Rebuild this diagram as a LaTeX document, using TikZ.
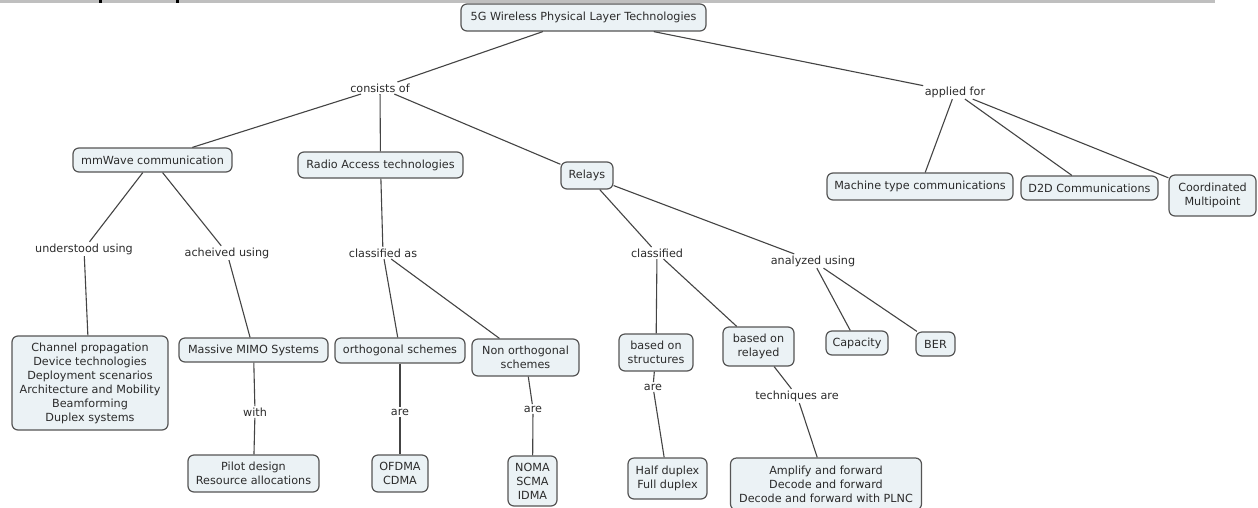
\documentclass[tikz,border=0pt]{standalone}
\usepackage{fontspec}
\setmainfont{DejaVu Sans}
\begin{document}
\definecolor{boxfill}{HTML}{EBF2F5}
\definecolor{boxline}{HTML}{555555}
\definecolor{inkgray}{HTML}{2B2B2B}
\definecolor{linkgray}{HTML}{444444}
\definecolor{bargray}{HTML}{BFBFBF}
\begin{tikzpicture}[x=1pt,y=-1pt,
  font=\fontsize{11.2}{14}\selectfont,
  cbox/.style={draw=boxline, fill=boxfill, rounded corners=6pt, line width=1.2pt,
               align=center, inner sep=0pt, text=inkgray},
  lbl/.style={inner sep=1.5pt, text=inkgray},
  link/.style={draw=linkgray, line width=1.1pt}]
\useasboundingbox (0,0) rectangle (1258,507);
\clip (0,0) rectangle (1258,507);
\fill[white] (0,0) rectangle (1258,507);
% header strip
\fill[bargray] (0,0) rectangle (1215,3);
\fill[black] (99,0) rectangle (101.5,3);
\fill[black] (176,0) rectangle (178.5,3);

% concepts
\node[cbox, minimum width=245pt, minimum height=27pt] (top) at (583.5,17.5) {5G Wireless Physical Layer Technologies};
\node[cbox, minimum width=159pt, minimum height=24pt] (mmw) at (152.5,160) {mmWave communication};
\node[cbox, minimum width=165pt, minimum height=26pt] (rat) at (380.5,165) {Radio Access technologies};
\node[cbox, minimum width=52pt, minimum height=27pt] (rel) at (587,175.5) {Relays};
\node[cbox, minimum width=186pt, minimum height=27pt] (mtc) at (920,186.5) {Machine type communications};
\node[cbox, minimum width=137pt, minimum height=24pt] (d2d) at (1089.5,188) {D2D Communications};
\node[cbox, minimum width=87pt, minimum height=41pt] (comp) at (1212.5,195.5) {Coordinated\\Multipoint};
\node[cbox, minimum width=156pt, minimum height=94pt] (chan) at (90,383) {Channel propagation\\Device technologies\\Deployment scenarios\\Architecture and Mobility\\Beamforming\\Duplex systems};
\node[cbox, minimum width=149pt, minimum height=24pt] (mimo) at (253.5,350) {Massive MIMO Systems};
\node[cbox, minimum width=131pt, minimum height=37pt] (pilot) at (253.5,473.5) {Pilot design\\Resource allocations};
\node[cbox, minimum width=130pt, minimum height=25pt] (orth) at (400,350.5) {orthogonal schemes};
\node[cbox, minimum width=56pt, minimum height=37pt] (ofdma) at (400,473.5) {OFDMA\\CDMA};
\node[cbox, minimum width=107pt, minimum height=37pt] (nonorth) at (525.5,357.5) {Non orthogonal\\schemes};
\node[cbox, minimum width=49pt, minimum height=50pt] (noma) at (532.5,481) {NOMA\\SCMA\\IDMA};
\node[cbox, minimum width=74pt, minimum height=37pt] (struct) at (656,352.5) {based on\\structures};
\node[cbox, minimum width=79pt, minimum height=41pt] (dup) at (667.5,478.5) {Half duplex\\Full duplex};
\node[cbox, minimum width=71pt, minimum height=39pt] (relayed) at (758.5,346.5) {based on\\relayed};
\node[cbox, minimum width=191pt, minimum height=52pt] (amp) at (826,484) {Amplify and forward\\Decode and forward\\Decode and forward with PLNC};
\node[cbox, minimum width=62pt, minimum height=24pt] (cap) at (857,343) {Capacity};
\node[cbox, minimum width=39pt, minimum height=24pt] (ber) at (935.5,344) {BER};

% linking phrases
\node[lbl] (consists) at (380,88) {consists of};
\node[lbl] (applied) at (955,92) {applied for};
\node[lbl] (understood) at (84,249) {understood using};
\node[lbl] (achieved) at (227,253) {acheived using};
\node[lbl] (classas) at (383,253) {classified as};
\node[lbl] (classified) at (657,253) {classified};
\node[lbl] (analyzed) at (813,261) {analyzed using};
\node[lbl] (with) at (255,412) {with};
\node[lbl] (areA) at (400,412) {are};
\node[lbl] (areB) at (533,409) {are};
\node[lbl] (areC) at (653,387) {are};
\node[lbl] (tech) at (797,396) {techniques are};

% links
\draw[link] (top) -- (consists);
\draw[link] (consists) -- (mmw);
\draw[link] (consists) -- (rat);
\draw[link] (consists) -- (rel);
\draw[link] (top) -- (applied);
\draw[link] (applied) -- (mtc);
\draw[link] (applied) -- (d2d);
\draw[link] (applied) -- (comp);
\draw[link] (mmw) -- (understood);
\draw[link] (mmw) -- (achieved);
\draw[link] (understood) -- (chan);
\draw[link] (achieved) -- (mimo);
\draw[link] (mimo) -- (with);
\draw[link] (with) -- (pilot);
\draw[link] (rat) -- (classas);
\draw[link] (classas) -- (orth);
\draw[link] (classas) -- (nonorth);
\draw[link] (orth) -- (areA);
\draw[link] (areA) -- (ofdma);
\draw[link] (nonorth) -- (areB);
\draw[link] (areB) -- (noma);
\draw[link] (rel) -- (classified);
\draw[link] (rel) -- (analyzed);
\draw[link] (classified) -- (struct);
\draw[link] (classified) -- (relayed);
\draw[link] (struct) -- (areC);
\draw[link] (areC) -- (dup);
\draw[link] (relayed) -- (tech);
\draw[link] (tech) -- (amp);
\draw[link] (analyzed) -- (cap);
\draw[link] (analyzed) -- (ber);
\end{tikzpicture}
\end{document}
